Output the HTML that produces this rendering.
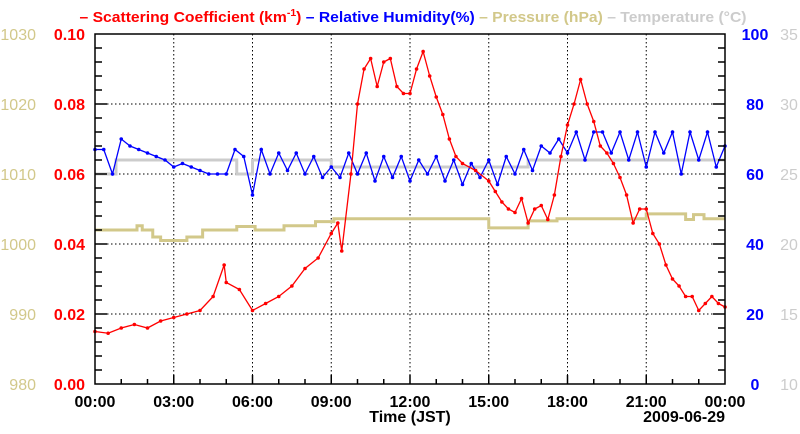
<!DOCTYPE html>
<html><head><meta charset="utf-8"><style>
body{margin:0;background:#fff}
svg{display:block;font-family:"Liberation Sans",sans-serif}
</style></head><body>
<svg id="chart" width="800" height="434">
<g id="grid"></g>
<g id="series"></g>
<g id="axes"></g>
<text x="413" y="22" text-anchor="middle" font-size="15" font-weight="bold" textLength="667" lengthAdjust="spacingAndGlyphs"><tspan fill="#f00">– Scattering Coefficient (km<tspan dy="-6" font-size="10">-1</tspan><tspan dy="6">)</tspan></tspan><tspan fill="#00f"> – Relative Humidity(%)</tspan><tspan fill="#d2c88a"> – Pressure (hPa)</tspan><tspan fill="#ccc"> – Temperature (°C)</tspan></text>
<text x="410" y="422" text-anchor="middle" font-size="16" font-weight="bold">Time (JST)</text>
<text x="725" y="422" text-anchor="end" font-size="16" font-weight="bold">2009-06-29</text>
</svg>
<script>
const scatT=[0,0.5,1,1.5,2,2.5,3,3.5,4,4.5,4.92,5,5.5,6,6.5,7,7.5,8,8.5,9,9.25,9.4,9.75,10,10.25,10.5,10.75,11,11.25,11.5,11.75,12,12.25,12.5,12.75,13,13.25,13.5,13.75,14,14.5,15,15.25,15.5,15.75,16,16.25,16.5,16.75,17,17.25,17.5,17.75,18,18.25,18.5,18.75,19,19.25,19.5,19.75,20,20.25,20.5,20.75,21,21.25,21.5,21.75,22,22.25,22.5,22.75,23,23.25,23.5,23.75,24];
const scatV=[0.015,0.0145,0.016,0.017,0.016,0.018,0.019,0.020,0.021,0.025,0.034,0.029,0.027,0.021,0.023,0.025,0.028,0.033,0.036,0.043,0.046,0.038,0.060,0.080,0.090,0.093,0.085,0.092,0.093,0.085,0.083,0.083,0.090,0.095,0.088,0.082,0.077,0.070,0.065,0.063,0.061,0.058,0.055,0.052,0.050,0.049,0.053,0.046,0.050,0.051,0.047,0.054,0.065,0.074,0.080,0.087,0.080,0.075,0.068,0.066,0.063,0.059,0.054,0.046,0.050,0.050,0.043,0.040,0.034,0.030,0.028,0.025,0.025,0.021,0.023,0.025,0.023,0.022];
const rhV=[67,67,60,70,68,67,66,65,64,62,63,62,61,60,60,60,67,65,54,67,60,66,61,66,60,65,59,62,59,66,60,66,58,65,59,65,58,64,60,65,58,64,57,63,59,64,57,65,60,67,61,68,66,70,66,72,64,72,72,66,72,64,72,62,72,66,72,60,72,64,72,62,68];
const presT=[0,1.6,1.8,2.2,2.5,3.5,4.1,5.4,6.1,7.2,8.4,9.1,11.3,15.0,16.5,17.6,21.0,22.5,22.8,23.2,24];
const presV=[1002,1002.6,1002,1001,1000.5,1001,1002,1002.5,1002,1002.6,1003.2,1003.6,1003.6,1002.3,1003.3,1003.6,1004.3,1003.5,1004.2,1003.6,1003.6];
const tempT=[0,0.8,5.4,6.0,6.3,9.0,16.5,24];
const tempV=[25,26,25,26,26,25.5,26,26];
const xTicks=["00:00","03:00","06:00","09:00","12:00","15:00","18:00","21:00","00:00"];
const scatTicks=["0.00","0.02","0.04","0.06","0.08","0.10"];
const rhTicks=["0","20","40","60","80","100"];
const presTicks=["980","990","1000","1010","1020","1030"];
const tempTicks=["10","15","20","25","30","35"];

const L=95,R=725,T=34,B=384,NS="http://www.w3.org/2000/svg";
const X=h=>L+(R-L)*h/24;
const Ys=v=>B-(B-T)*v/0.1, Yh=v=>B-(B-T)*v/100, Yp=v=>B-(B-T)*(v-980)/50, Yt=v=>B-(B-T)*(v-10)/25;
function mk(tag,a,p){const e=document.createElementNS(NS,tag);for(const k in a)e.setAttribute(k,a[k]);p.appendChild(e);return e;}
const grid=document.getElementById('grid'),ser=document.getElementById('series'),ax=document.getElementById('axes');
for(let i=1;i<8;i++){const x=X(i*3);const l=mk('line',{x1:x,x2:x,y1:T,y2:B,stroke:'#000','stroke-dasharray':'1.5,2.5','stroke-width':1},grid);

}
for(let i=1;i<5;i++){const y=B-(B-T)*i/5;const l=mk('line',{x1:L,x2:R,y1:y,y2:y,stroke:'#000','stroke-dasharray':'1.5,2.5','stroke-width':1},grid);

}
function step(ts,vs,yf){let d='M'+X(ts[0])+','+yf(vs[0]);for(let i=1;i<ts.length;i++){d+='L'+X(ts[i])+','+yf(vs[i-1])+'L'+X(ts[i])+','+yf(vs[i]);}return d;}
const tp=mk('path',{d:step(tempT,tempV,Yt),fill:'none',stroke:'#ccc','stroke-width':3},ser);


const pp=mk('path',{d:step(presT,presV,Yp),fill:'none',stroke:'#d2c88a','stroke-width':3},ser);


function line(ts,vs,yf,col,name){const d=ts.map((t,i)=>(i?'L':'M')+X(t)+','+yf(vs[i])).join('');
const p=mk('path',{d:d,fill:'none',stroke:col,'stroke-width':1.3},ser);


ts.forEach((t,i)=>{const c=mk('circle',{cx:X(t),cy:yf(vs[i]),r:1.8,fill:col},ser);

});}
const rhT=rhV.map((v,i)=>i/3);
line(rhT,rhV,Yh,'#00f','humidity');
line(scatT,scatV,Ys,'#f00','scattering');
const fr=mk('rect',{x:L,y:T,width:R-L,height:B-T,fill:'none',stroke:'#000','stroke-width':1.5},ax);


for(let h=1;h<24;h++){const x=X(h),len=h%3?5:9;mk('line',{x1:x,x2:x,y1:B,y2:B-len,stroke:'#000','stroke-width':1.5},ax);}
for(let i=1;i<25;i++){const y=B-(B-T)*i/25,len=i%5?7:12;mk('line',{x1:L,x2:L+len,y1:y,y2:y,stroke:'#000','stroke-width':1.5},ax);mk('line',{x1:R,x2:R-len,y1:y,y2:y,stroke:'#000','stroke-width':1.5},ax);}
xTicks.forEach((s,i)=>{const t=mk('text',{x:X(i*3),y:407,'text-anchor':'middle','font-size':16,'font-weight':'bold'},ax);t.textContent=s;

});
function ylab(arr,x,anchor,col,name,bold){arr.forEach((s,i)=>{const y=B-(B-T)*i/5+6;const t=mk('text',{x:x,y:y,'text-anchor':anchor,'font-size':16,'font-weight':bold?'bold':'normal',fill:col},ax);t.textContent=s;

});}
ylab(scatTicks,85,'end','#f00','scattering-tick-label',true);
ylab(presTicks,36,'end','#d2c88a','pressure-tick-label',false);
ylab(rhTicks,755,'middle','#00f','humidity-tick-label',true);
ylab(tempTicks,789,'middle','#ccc','temperature-tick-label',false);
</script>
</body></html>
